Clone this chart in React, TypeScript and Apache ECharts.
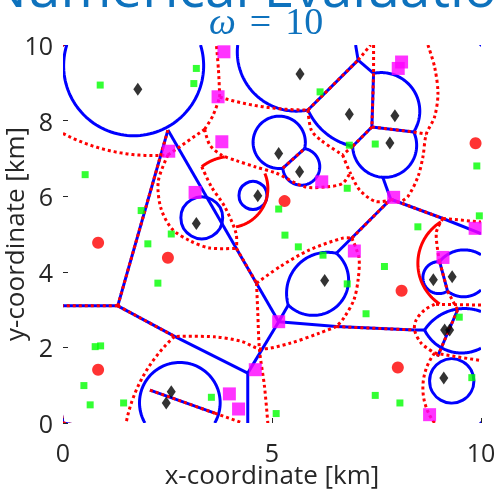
import React, { useEffect, useRef } from "react";
import * as echarts from "echarts";

const titleText = "Numerical Evaluation";
const subtitleText = "{w|ω}{e|=}{d|10}";
const xName = "x-coordinate [km]";
const yName = "y-coordinate [km]";
const xMin = 0;
const xMax = 10;
const xStep = 5;
const yMin = 0;
const yMax = 10;
const yStep = 2;

// markers (km)
const diamonds = [
  [1.79, 8.83], [3.19, 5.28], [5.67, 9.23], [5.16, 7.13], [5.66, 6.65], [4.66, 6.01],
  [6.85, 8.17], [7.94, 8.13], [7.82, 7.41], [2.59, 0.83], [2.47, 0.53], [6.26, 3.77],
  [8.86, 3.79], [9.31, 3.87], [9.13, 2.46], [9.25, 2.46], [9.11, 1.19],
];
const magentaSquares = [
  [2.53, 7.19], [3.16, 6.1], [3.85, 9.82], [3.71, 8.63], [3.8, 7.44], [6.19, 6.38],
  [8.1, 9.55], [8.02, 9.38], [7.91, 5.97], [9.86, 5.15], [6.97, 4.55], [9.09, 4.38],
  [8.77, 0.22], [5.16, 2.68], [4.6, 1.41], [3.98, 0.77], [4.2, 0.37],
];
const redDots = [
  [0.84, 4.77], [2.51, 4.37], [0.84, 1.41], [5.3, 5.87], [9.87, 7.4], [8.1, 3.5], [8.01, 1.47],
];
const greenSquares = [
  [3.19, 9.38], [3.13, 8.98], [0.89, 8.94], [0.53, 6.57], [1.87, 5.62], [2.59, 5.0],
  [6.15, 8.76], [5.16, 5.66], [5.31, 4.97], [6.85, 7.35], [7.47, 7.38], [6.8, 6.21],
  [9.9, 6.8], [9.96, 5.48], [8.49, 5.19], [2.03, 4.74], [2.27, 3.7], [0.77, 2.02],
  [0.9, 2.04], [0.5, 0.99], [0.65, 0.48], [1.45, 0.53], [5.63, 4.66], [6.22, 4.44],
  [3.55, 0.68], [5.1, 0.25], [7.69, 4.14], [6.8, 3.68], [7.25, 2.89], [9.48, 2.8],
  [9.78, 1.2], [7.47, 0.73], [8.06, 0.53],
];

// boundaries shared by both partitions: blue solid with red dots on top (x0,y0,x1,y1,...)
const sharedLines = [
  [0, 0, 10, 0, 10, 10, 0, 10, 0, 0],
  [2.51, 7.75, 1.31, 3.1],
  [1.31, 3.1, 0, 3.1],
  [1.31, 3.1, 2.67, 2.29],
  [6.54, 2.55, 8.41, 2.46],
  [5.86, 8.28, 7.06, 9.6],
  [7.43, 9.25, 7.39, 7.83],
  [7.39, 7.83, 8.39, 7.7],
  [7.39, 7.83, 6.93, 7.32],
  [5.26, 6.74, 5.78, 7.26],
  [7.84, 5.92, 9.09, 5.41],
  [9.01, 4.27, 9.2, 3.49],
  [9.44, 2.99, 8.96, 1.76],
  [2.08, 0.87, 3.63, 0.26],
];
// blue solid straight edges
const blueLines = [
  [2.51, 7.75, 5.16, 2.68],
  [2.67, 2.29, 4.42, 1.32],
  [4.42, 1.32, 4.42, 0],
  [4.42, 1.32, 5.16, 2.68],
  [5.16, 2.68, 6.54, 2.55],
  [8.41, 2.46, 8.65, 2.46],
  [5.16, 2.68, 5.39, 3.12],
  [7.06, 9.6, 7.0, 10],
  [7.06, 9.6, 7.43, 9.25],
  [7.65, 6.5, 7.84, 5.92],
  [6.54, 4.49, 7.84, 5.92],
  [9.09, 5.41, 10, 5.01],
];
// blue arcs: start, a point on the arc, end
const blueArcs = [
  [0.09, 10, 1.69, 7.6, 3.29, 10],
  [4.18, 10, 4.66, 8.63, 5.86, 8.28],
  [5.86, 8.28, 6.46, 7.53, 6.93, 7.32],
  [6.93, 7.32, 7.65, 6.5, 8.39, 7.7],
  [7.43, 9.25, 8.53, 8.36, 8.39, 7.7],
  [5.78, 7.26, 4.55, 7.36, 5.26, 6.74],
  [5.78, 7.26, 6.05, 6.48, 5.26, 6.74],
  [1.96, 0, 2.85, 1.6, 3.63, 0],
  [5.39, 3.12, 5.55, 4.09, 6.54, 4.49],
  [6.54, 4.49, 6.77, 3.43, 5.39, 3.12],
  [8.65, 2.46, 9.41, 3.01, 10, 2.95],
  [8.65, 2.46, 9.41, 1.86, 10, 1.98],
  [9.01, 4.27, 8.61, 3.86, 9.2, 3.49],
  [9.01, 4.27, 9.6, 4.58, 10, 4.45],
  [9.2, 3.49, 9.63, 3.34, 10, 3.52],
];
// blue full circles: three points on each
const blueCircles = [
  [4.21, 6.02, 4.54, 6.39, 4.88, 6.02],
  [2.82, 5.42, 3.32, 5.98, 3.82, 5.42],
  [8.77, 1.12, 9.3, 1.7, 9.83, 1.12],
];
// red dotted curves (polylines through read points)
const redDottedLines = [
  [2.51, 7.09, 3.39, 7.77],
  [3.39, 7.77, 3.59, 8.14, 3.75, 8.62],
  [3.75, 8.62, 3.72, 9.33, 3.67, 10],
  [5.86, 8.28, 5.94, 7.75, 6.17, 7.48, 6.69, 7.09],
  [6.93, 7.32, 6.69, 7.09],
  [6.69, 7.09, 6.87, 6.62, 7.1, 6.16, 7.48, 5.86, 7.84, 5.9],
  [3.39, 7.77, 3.51, 7.36, 3.79, 7.09, 4.15, 6.94, 4.59, 6.78, 5.1, 6.61, 5.78, 6.25, 6.34, 6.25, 6.69, 6.34, 6.87, 6.62],
  [3.32, 6.78, 3.55, 6.25, 3.87, 5.72, 4.14, 5.02, 4.15, 4.62],
  [4.15, 4.62, 4.63, 3.7],
  [4.63, 3.7, 4.66, 2.91, 4.7, 1.94, 4.82, 0.97, 4.9, 0],
  [2.51, 7.09, 2.28, 6.4, 2.34, 5.69, 2.61, 5.13, 3.04, 4.82, 3.51, 4.63, 4.15, 4.62],
  [4.63, 3.7, 5.21, 4.15, 5.9, 4.58, 6.69, 4.89, 6.91, 4.89],
  [6.91, 4.89, 7.84, 5.92],
  [6.91, 4.89, 7.08, 4.37, 7.06, 3.79, 6.96, 3.26, 6.72, 2.78, 6.54, 2.55],
  [6.54, 2.55, 6.14, 2.38, 5.43, 2.11, 4.73, 1.96, 4.27, 2.16, 3.63, 2.28, 2.67, 2.29],
  [3.63, 0.26, 4.3, 0],
  [7.06, 9.6, 7.36, 10],
  [7.43, 10, 7.43, 9.25],
  [8.39, 7.7, 8.69, 7.64],
  [8.73, 10, 8.89, 9.42, 8.97, 8.72, 8.89, 8.1, 8.69, 7.64, 8.61, 7.04, 8.49, 6.51, 8.25, 5.99, 8.05, 5.83],
  [9.09, 5.41, 10, 5.32],
  [9.09, 5.41, 8.93, 5.03, 9.01, 4.27],
  [9.2, 3.49, 9.44, 2.99],
  [10, 3.12, 8.89, 3.14],
  [8.89, 3.14, 8.65, 2.99, 8.45, 2.73, 8.41, 2.46, 8.57, 2.11, 8.89, 1.85],
  [8.89, 1.85, 10, 1.65],
];
const redDottedArcs = [
  [8.89, 1.85, 8.61, 0.88, 8.89, 0],
  [2.67, 2.29, 1.87, 1.14, 1.51, 0],
  [0, 7.66, 1.47, 7.13, 2.51, 7.09],
  [3.75, 8.62, 4.82, 8.36, 5.86, 8.28],
];
const redSolidArcs = [
  [3.32, 6.78, 3.56, 6.94, 3.87, 7.04],
  [4.83, 6.6, 4.9, 6.16, 4.14, 5.19],
  [9.04, 5.32, 8.49, 4.23, 9.01, 3.15],
];

function circleFrom3(a: number[], b: number[], c: number[]) {
  const d = 2 * (a[0] * (b[1] - c[1]) + b[0] * (c[1] - a[1]) + c[0] * (a[1] - b[1]));
  if (Math.abs(d) < 1e-9) return null;
  const a2 = a[0] * a[0] + a[1] * a[1];
  const b2 = b[0] * b[0] + b[1] * b[1];
  const c2 = c[0] * c[0] + c[1] * c[1];
  const ux = (a2 * (b[1] - c[1]) + b2 * (c[1] - a[1]) + c2 * (a[1] - b[1])) / d;
  const uy = (a2 * (c[0] - b[0]) + b2 * (a[0] - c[0]) + c2 * (b[0] - a[0])) / d;
  return [ux, uy, Math.hypot(a[0] - ux, a[1] - uy)];
}

function arcThrough(p0: number[], pm: number[], p1: number[]) {
  const c = circleFrom3(p0, pm, p1);
  if (!c) return [p0, p1];
  const TAU = Math.PI * 2;
  const ang = (p: number[]) => Math.atan2(p[1] - c[1], p[0] - c[0]);
  const mod = (v: number) => ((v % TAU) + TAU) % TAU;
  const t0 = ang(p0);
  const d1 = mod(ang(p1) - t0);
  const dm = mod(ang(pm) - t0);
  const sweep = dm < d1 ? d1 : d1 - TAU;
  const n = 80;
  const out: number[][] = [];
  for (let i = 0; i <= n; i++) {
    const t = t0 + (sweep * i) / n;
    out.push([c[0] + c[2] * Math.cos(t), c[1] + c[2] * Math.sin(t)]);
  }
  return out;
}

const BLUE = { stroke: "#0000ff", lineWidth: 3, fill: "none", lineJoin: "round" };
const RED_DOT = { stroke: "#ff0000", lineWidth: 3, fill: "none", lineDash: [3, 3] };
const RED_SOLID = { stroke: "#ff0000", lineWidth: 3, fill: "none" };

function geoSeries(items: number[][], kind: string, style: any, z: number) {
  return {
    type: "custom",
    coordinateSystem: "cartesian2d",
    silent: true,
    clip: true,
    z,
    data: items.map((it) => [it[0], it[1]]),
    renderItem: (params: any, api: any) => {
      const it = items[params.dataIndex];
      const pts: number[][] = [];
      for (let i = 0; i + 1 < it.length; i += 2) pts.push(api.coord([it[i], it[i + 1]]));
      if (kind === "circle") {
        const c = circleFrom3(pts[0], pts[1], pts[2]) || [pts[0][0], pts[0][1], 1];
        return { type: "circle", shape: { cx: c[0], cy: c[1], r: c[2] }, style };
      }
      if (kind === "arc") {
        return { type: "polyline", shape: { points: arcThrough(pts[0], pts[1], pts[2]) }, style };
      }
      return { type: "polyline", shape: { points: pts, smooth: pts.length > 2 ? 0.3 : 0 }, style };
    },
  };
}

const TXT = "#262626";
const SANS = "'Open Sans', 'Noto Sans', sans-serif";
const SERIF = "'Liberation Serif', 'DejaVu Serif', serif";
const TITLE_BLUE = "#0e72bd";

export default function App() {
  const ref = useRef<HTMLDivElement>(null);
  useEffect(() => {
    document.body.style.margin = "0";
    const chart = echarts.init(ref.current as HTMLDivElement, null, { renderer: "svg" });
    const option: any = {
      animation: false,
      grid: { left: 63, right: 18, top: 45, bottom: 66, outerBoundsMode: "none", containLabel: false },
      xAxis: {
        type: "value", min: xMin, max: xMax, interval: xStep,
        axisLine: { show: false },
        splitLine: { show: false },
        axisTick: { show: true, inside: true, length: 5, lineStyle: { color: TXT, width: 1 } },
        axisLabel: { fontSize: 25, color: TXT, fontFamily: SANS, margin: 16 },
        name: xName, nameLocation: "middle", nameGap: 38, nameMoveOverlap: false,
        nameTextStyle: { fontSize: 26, color: TXT, fontFamily: SANS },
      },
      yAxis: {
        type: "value", min: yMin, max: yMax, interval: yStep,
        axisLine: { show: false },
        splitLine: { show: false },
        axisTick: { show: true, inside: true, length: 5, lineStyle: { color: TXT, width: 1 } },
        axisLabel: { fontSize: 25, color: TXT, fontFamily: SANS, margin: 10 },
        name: yName, nameLocation: "middle", nameGap: 36, nameMoveOverlap: false,
        nameTextStyle: { fontSize: 26, color: TXT, fontFamily: SANS },
      },
      graphic: [
        {
          type: "text", x: 258, y: -15, silent: true,
          style: { text: titleText, fill: TITLE_BLUE, fontSize: 55, fontFamily: SANS, align: "center", verticalAlign: "middle" },
        },
        {
          type: "text", x: 266, y: 21, silent: true,
          style: {
            text: subtitleText, align: "center", verticalAlign: "middle",
            fill: TITLE_BLUE, fontSize: 38, fontFamily: SERIF,
            rich: {
              w: { fontStyle: "italic", fontSize: 38, fontFamily: SERIF, fill: TITLE_BLUE },
              e: { fontSize: 38, fontFamily: SERIF, fill: TITLE_BLUE, padding: [0, 14, 0, 14] },
              d: { fontSize: 38, fontFamily: SERIF, fill: TITLE_BLUE },
            },
          },
        },
      ],
      series: [
        geoSeries(blueArcs, "arc", BLUE, 2),
        geoSeries(blueCircles, "circle", BLUE, 2),
        geoSeries([...blueLines, ...sharedLines], "poly", BLUE, 2),
        geoSeries(redSolidArcs, "arc", RED_SOLID, 3),
        geoSeries(redDottedArcs, "arc", RED_DOT, 3),
        geoSeries([...redDottedLines, ...sharedLines], "poly", RED_DOT, 3),
        { type: "scatter", data: magentaSquares, symbol: "rect", symbolSize: 13, itemStyle: { color: "#ff00ff" }, z: 5, silent: true },
        { type: "scatter", data: redDots, symbol: "circle", symbolSize: 12, itemStyle: { color: "#ff0000" }, z: 6, silent: true },
        { type: "scatter", data: greenSquares, symbol: "rect", symbolSize: 7, itemStyle: { color: "#00ff00" }, z: 7, silent: true },
        { type: "scatter", data: diamonds, symbol: "diamond", symbolSize: [9, 13], itemStyle: { color: "#000000" }, z: 8, silent: true },
      ],
    };
    chart.setOption(option);
    return () => chart.dispose();
  }, []);
  return <div ref={ref} style={{ position: "fixed", left: 0, top: 0, width: 499, height: 489 }} />;
}
